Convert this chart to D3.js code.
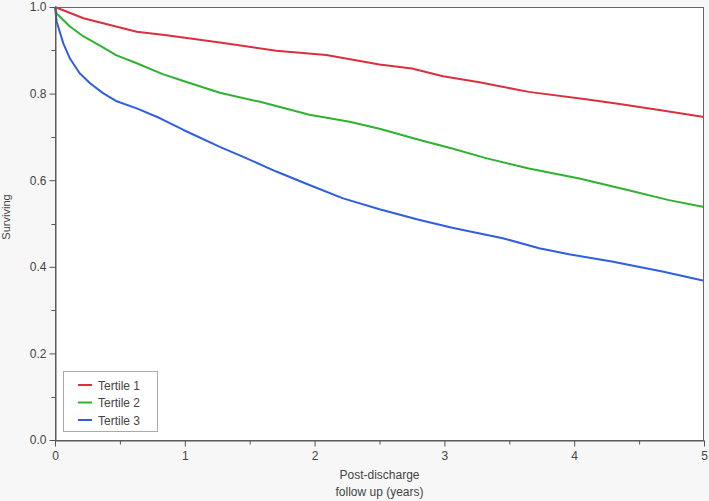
<!DOCTYPE html>
<html>
<head>
<meta charset="utf-8">
<script src="https://cdn.jsdelivr.net/npm/d3@7"></script>
<style>
  body { margin: 0; background: #f7f7f7; }
  svg { display: block; font-family: "Liberation Sans", Arial, sans-serif; }
</style>
</head>
<body>
<script>
// follow-up time (years)
var years1 = [0, 0.22, 0.47, 0.63, 0.86, 1.27, 1.705, 2.09, 2.5, 2.75, 2.99, 3.27, 3.65, 4.09, 4.35, 4.68, 5];
var tertile1 = [1.0, 0.974, 0.955, 0.943, 0.935, 0.918, 0.899, 0.889, 0.867, 0.858, 0.840, 0.826, 0.804, 0.787, 0.776, 0.761, 0.746];

var years2 = [0, 0.013, 0.115, 0.22, 0.35, 0.47, 0.63, 0.83, 0.99, 1.27, 1.58, 1.96, 2.27, 2.5, 2.81, 3.06, 3.32, 3.65, 4.04, 4.42, 4.73, 5];
var tertile2 = [1.0, 0.985, 0.955, 0.932, 0.910, 0.889, 0.870, 0.845, 0.829, 0.802, 0.781, 0.751, 0.735, 0.719, 0.693, 0.673, 0.651, 0.627, 0.604, 0.577, 0.554, 0.538];

var years3 = [0, 0.013, 0.064, 0.115, 0.19, 0.27, 0.37, 0.47, 0.63, 0.81, 0.99, 1.27, 1.45, 1.705, 1.96, 2.22, 2.5, 2.81, 3.06, 3.45, 3.73, 3.96, 4.29, 4.68, 5];
var tertile3 = [1.0, 0.966, 0.916, 0.881, 0.847, 0.824, 0.801, 0.783, 0.766, 0.743, 0.716, 0.677, 0.654, 0.620, 0.589, 0.558, 0.533, 0.508, 0.490, 0.466, 0.443, 0.429, 0.412, 0.389, 0.368];

var seriesNames = ["Tertile 1", "Tertile 2", "Tertile 3"];
var seriesColors = ["#d9303d", "#2fb22f", "#2f5fe0"];

var xMajor = [0, 1, 2, 3, 4, 5];
var xMinor = [0.5, 1.5, 2.5, 3.5, 4.5];
var yMajor = [0, 0.2, 0.4, 0.6, 0.8, 1.0];
var yMinor = [0.1, 0.3, 0.5, 0.7, 0.9];

var W = 709, H = 501;
var plotL = 55, plotR = 704, plotT = 7, plotB = 440;

var svg = d3.select("body").append("svg")
  .attr("width", W).attr("height", H);

var x = d3.scaleLinear().domain([0, 5]).range([plotL, plotR]);
var y = d3.scaleLinear().domain([0, 1]).range([plotB, plotT]);

// plot background
svg.append("rect")
  .attr("x", plotL).attr("y", plotT)
  .attr("width", plotR - plotL).attr("height", plotB - plotT)
  .attr("fill", "#fff");

// curves
var line = d3.line()
  .x(d => x(d[0]))
  .y(d => y(d[1]));

var allSeries = [
  d3.zip(years1, tertile1),
  d3.zip(years2, tertile2),
  d3.zip(years3, tertile3)
];

svg.append("g").selectAll("path")
  .data(allSeries)
  .enter().append("path")
  .attr("d", line)
  .attr("fill", "none")
  .attr("stroke", (d, i) => seriesColors[i])
  .attr("stroke-width", 2)
  .attr("stroke-linejoin", "round");

// frame
svg.append("rect")
  .attr("x", plotL + 0.5).attr("y", plotT + 0.5)
  .attr("width", plotR - plotL - 1).attr("height", plotB - plotT)
  .attr("fill", "none")
  .attr("stroke", "#666")
  .attr("stroke-width", 1);

// x axis
var xAxis = svg.append("g")
  .attr("transform", "translate(0," + (plotB + 0.5) + ")")
  .call(d3.axisBottom(x).tickValues(xMajor).tickFormat(d3.format("d")).tickSize(6).tickSizeOuter(0));
xAxis.append("g").selectAll("line")
  .data(xMinor).enter().append("line")
  .attr("x1", d => x(d) + 0.5).attr("x2", d => x(d) + 0.5)
  .attr("y1", 0).attr("y2", 4)
  .attr("stroke", "#555");

// y axis
var yAxis = svg.append("g")
  .attr("transform", "translate(" + (plotL + 0.5) + ",0)")
  .call(d3.axisLeft(y).tickValues(yMajor).tickFormat(d3.format(".1f")).tickSize(6).tickSizeOuter(0));
yAxis.append("g").selectAll("line")
  .data(yMinor).enter().append("line")
  .attr("y1", d => Math.round(y(d)) + 0.5).attr("y2", d => Math.round(y(d)) + 0.5)
  .attr("x1", 0).attr("x2", -4)
  .attr("stroke", "#555");

svg.selectAll(".domain").attr("stroke", "#555");
svg.selectAll(".tick line").attr("stroke", "#555");
svg.selectAll(".tick text")
  .attr("fill", "#444")
  .style("font-size", "12px")
  .style("font-family", "'Liberation Sans', Arial, sans-serif");
xAxis.selectAll(".tick text").attr("dy", "0.9em");

// axis titles
svg.append("text")
  .attr("x", (plotL + plotR) / 2).attr("y", 479)
  .attr("text-anchor", "middle")
  .attr("fill", "#444").style("font-size", "12px")
  .text("Post-discharge");
svg.append("text")
  .attr("x", (plotL + plotR) / 2).attr("y", 496)
  .attr("text-anchor", "middle")
  .attr("fill", "#444").style("font-size", "12px")
  .text("follow up (years)");
svg.append("text")
  .attr("transform", "translate(10,217) rotate(-90)")
  .attr("text-anchor", "middle")
  .attr("fill", "#444").style("font-size", "11px")
  .text("Surviving");

// legend
var legend = svg.append("g");
legend.append("rect")
  .attr("x", 63.5).attr("y", 371.5)
  .attr("width", 94).attr("height", 60)
  .attr("fill", "#fff")
  .attr("stroke", "#aaa");
var items = legend.selectAll("g.item")
  .data(seriesNames).enter().append("g")
  .attr("transform", (d, i) => "translate(0," + (385 + i * 17.5) + ")");
items.append("line")
  .attr("x1", 78).attr("x2", 92)
  .attr("y1", 0).attr("y2", 0)
  .attr("stroke", (d, i) => seriesColors[i])
  .attr("stroke-width", 2);
items.append("text")
  .attr("x", 98).attr("y", 4.5)
  .attr("fill", "#444").style("font-size", "12px")
  .text(d => d);
</script>
</body>
</html>
